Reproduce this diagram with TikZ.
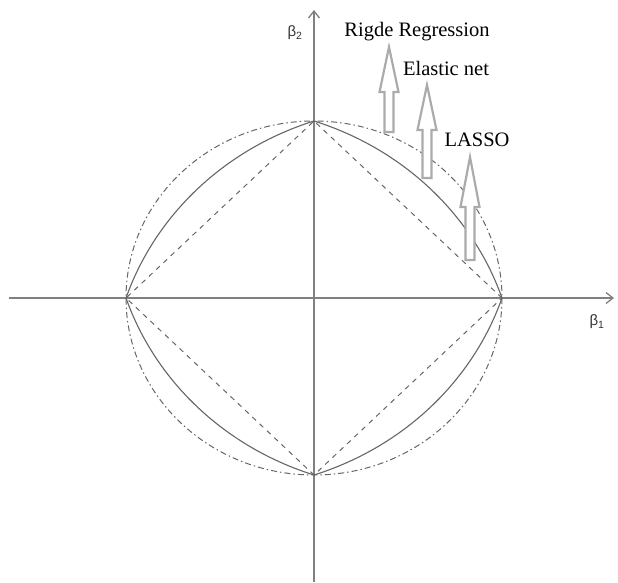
\documentclass[tikz,border=0pt]{standalone}
\usepackage{fontspec}
\setmainfont{Liberation Serif}
\newfontfamily\sansgr{Liberation Sans}
\usetikzlibrary{arrows.meta}
\newcommand\blkarrow[4]{% x, ybase, yheadbase, ytip
  \draw[blockarr] (#1-4.5,#2) -- (#1-4.5,#3) -- (#1-9.5,#3) -- (#1,#4) -- (#1+9.5,#3) -- (#1+4.5,#3) -- (#1+4.5,#2) -- cycle;}
\begin{document}
\begin{tikzpicture}[x=1pt,y=-1pt,
  axis/.style={draw=black!50, line width=1.3pt},
  curve/.style={draw=black!60, line width=1.1pt},
  blockarr/.style={draw=black!33, line width=2.2pt, fill=white, line join=miter},
  lbl/.style={font=\fontsize{20.5}{24}\selectfont, inner sep=0pt},
  glbl/.style={font=\sansgr\fontsize{15}{17}\selectfont, text=black!80, inner sep=0pt}]
\useasboundingbox (0,0) rectangle (618,582);
\coordinate (O) at (314,298);
\coordinate (L) at (126,298);
\coordinate (R) at (502,298);
\coordinate (T) at (314,121);
\coordinate (B) at (314,475);
\coordinate (xs) at (9,298);
\coordinate (xe) at (614,298);
\coordinate (ys) at (314,582);
\coordinate (ye) at (314,10);
% axes
\draw[axis, -{Straight Barb[length=7pt,width=11pt]}] (xs) -- (xe);
\draw[axis, -{Straight Barb[length=7pt,width=11pt]}] (ys) -- (ye);
% ridge circle (dash-dot)
\draw[curve, line width=1pt, dash pattern=on 6pt off 3pt on 1.5pt off 3pt] (O) ellipse [x radius=188, y radius=177];
% lasso diamond (dashed)
\draw[curve, line width=1pt, dash pattern=on 5pt off 5pt] (R) -- (T) -- (L) -- (B) -- cycle;
% elastic net
\draw[curve] plot[domain=0:360, samples=361, smooth, variable=\t]
  ({314+188*cos(\t)*(-0.5*(abs(cos(\t))+abs(sin(\t)))+sqrt(0.25*(abs(cos(\t))+abs(sin(\t)))^2+2))},
   {298+177*sin(\t)*(-0.5*(abs(cos(\t))+abs(sin(\t)))+sqrt(0.25*(abs(cos(\t))+abs(sin(\t)))^2+2))});
% block arrows
\blkarrow{389}{132}{92}{47}
\blkarrow{427}{178}{130}{85}
\blkarrow{470}{260}{207}{157}
% labels
\node[lbl] (ridge) at (417,32) {Rigde Regression};
\node[lbl] (enet) at (446,68) {Elastic net};
\node[lbl] (lasso) at (477,140) {LASSO};
\node[glbl] (b2) at (295,33) {β\textsubscript{2}};
\node[glbl] (b1) at (597,322) {β\textsubscript{1}};
\end{tikzpicture}
\end{document}
